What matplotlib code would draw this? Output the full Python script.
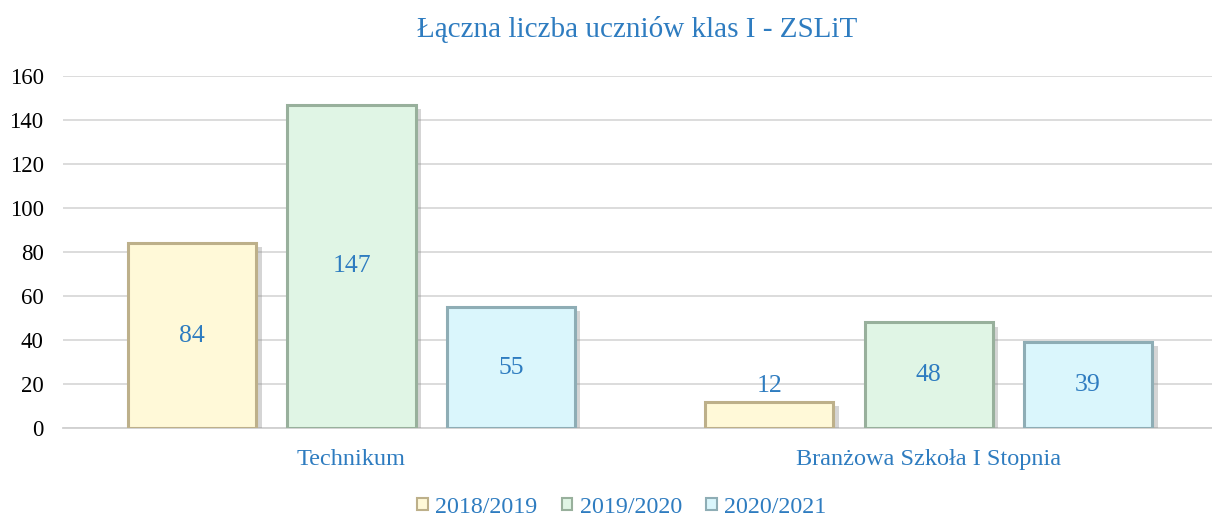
import matplotlib
matplotlib.use('Agg')
import matplotlib.pyplot as plt
import matplotlib.patheffects as pe
from matplotlib.patches import Patch
import numpy as np

# dane
categories = ['Technikum', 'Branżowa Szkoła I Stopnia']
years = ['2018/2019', '2019/2020', '2020/2021']
values_2018 = [84, 12]
values_2019 = [147, 48]
values_2020 = [55, 39]
yticks = [0, 20, 40, 60, 80, 100, 120, 140, 160]

face_colors = ['#FFF9D8', '#E0F5E5', '#DAF6FC']
edge_colors = ['#BDB08A', '#98B09C', '#8EADB5']
blue = '#2E7CC0'

plt.rcParams['font.family'] = ['Liberation Serif', 'DejaVu Serif']

fig = plt.figure(figsize=(12.12, 5.16), dpi=100)
ax = fig.add_axes([63 / 1212, 88 / 516, 1149 / 1212, 352 / 516])

x = np.arange(len(categories))
width = 0.222
step = 0.276
series = [values_2018, values_2019, values_2020]

for i, vals in enumerate(series):
    pos = x + (i - 1) * step
    bars = ax.bar(pos, vals, width, color=face_colors[i], edgecolor=edge_colors[i],
                  linewidth=2.2, zorder=3)
    for b in bars:
        b.set_path_effects([pe.SimplePatchShadow(offset=(4, -3), shadow_rgbFace='#888888', alpha=0.35),
                            pe.Normal()])
    for p, v in zip(pos, vals):
        if v < 20:
            ax.text(p, v + 7, str(v), ha='center', va='center', fontsize=18.5, color=blue, zorder=4)
        else:
            ax.text(p, v / 2, str(v), ha='center', va='center', fontsize=18.5, color=blue, zorder=4)

ax.set_xlim(-0.5, 1.491)
ax.set_ylim(0, 160)
ax.set_yticks(yticks)
ax.set_xticks(x)
ax.set_xticklabels(categories, color=blue, fontsize=17.5)
ax.tick_params(axis='x', length=0, pad=15)
ax.tick_params(axis='y', length=0, pad=14, labelsize=16.5)
ax.grid(axis='y', color='#D9D9D9', linewidth=1.3, zorder=0)
ax.set_axisbelow(True)
for s in ['top', 'right', 'left']:
    ax.spines[s].set_visible(False)
ax.spines['bottom'].set_color('#D0D0D0')
ax.spines['bottom'].set_linewidth(1.3)

fig.text(0.526, 0.942, 'Łączna liczba uczniów klas I - ZSLiT', ha='center', va='center',
         fontsize=21, color=blue)

handles = [Patch(facecolor=face_colors[i], edgecolor=edge_colors[i], linewidth=1.5) for i in range(3)]
fig.legend(handles, years, loc='center', bbox_to_anchor=(0.513, 0.0174), ncol=3, frameon=False,
           fontsize=17.3, labelcolor=blue, handlelength=0.45, handleheight=0.45, handletextpad=0.3,
           columnspacing=1.0)

fig.savefig('out.png', dpi=100)
